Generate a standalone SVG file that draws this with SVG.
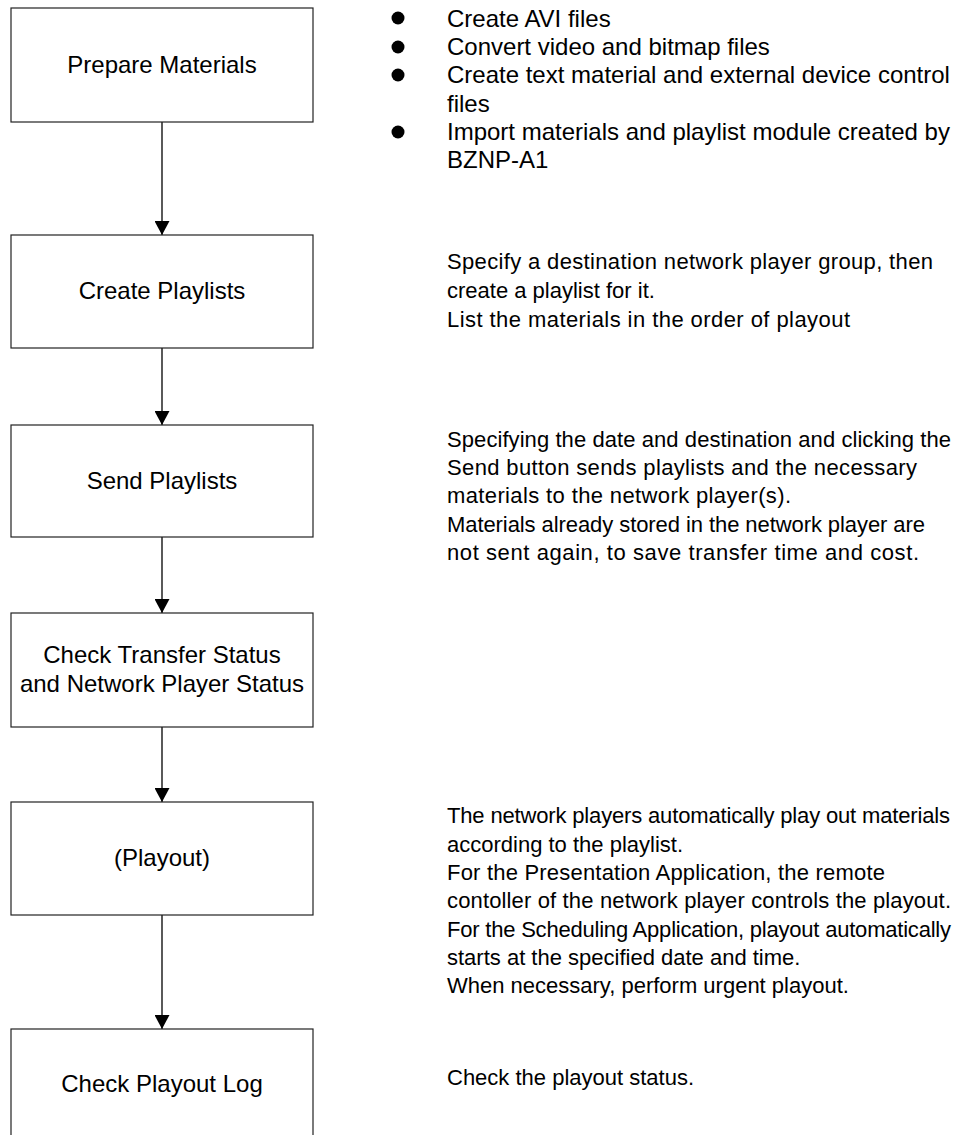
<svg xmlns="http://www.w3.org/2000/svg" width="959" height="1135" viewBox="0 0 959 1135">
<style>
.box{fill:#fff;stroke:#222;stroke-width:1.2}
.t{font-family:"Liberation Sans",Arial,sans-serif;font-size:24px;fill:#000}
.d{font-family:"Liberation Sans",Arial,sans-serif;font-size:22px;fill:#000}
.c{text-anchor:middle}
.ln{stroke:#000;stroke-width:1.3;fill:none}
</style>
<defs>
<marker id="ah" markerWidth="14" markerHeight="15" refX="14" refY="7.5" orient="auto" markerUnits="userSpaceOnUse">
<path d="M0,0 L14,7.5 L0,15 Z" fill="#000"/>
</marker>
</defs>
<rect width="959" height="1135" fill="#fff"/>
<g id="connectors">
<line class="ln" x1="162" y1="122" x2="162" y2="235" marker-end="url(#ah)"/>
<line class="ln" x1="162" y1="348" x2="162" y2="425" marker-end="url(#ah)"/>
<line class="ln" x1="162" y1="537" x2="162" y2="613" marker-end="url(#ah)"/>
<line class="ln" x1="162" y1="727" x2="162" y2="802" marker-end="url(#ah)"/>
<line class="ln" x1="162" y1="915" x2="162" y2="1029" marker-end="url(#ah)"/>
</g>
<g id="n1">
<rect class="box" x="11" y="8" width="302" height="114"/>
<text class="t c" x="162" y="73">Prepare Materials</text>
</g>
<g id="n2">
<rect class="box" x="11" y="235" width="302" height="113"/>
<text class="t c" x="162" y="299">Create Playlists</text>
</g>
<g id="n3">
<rect class="box" x="11" y="425" width="302" height="112"/>
<text class="t c" x="162" y="489">Send Playlists</text>
</g>
<g id="n4">
<rect class="box" x="11" y="613" width="302" height="114"/>
<text class="t c" x="162" y="663">Check Transfer Status</text>
<text class="t c" x="162" y="692">and Network Player Status</text>
</g>
<g id="n5">
<rect class="box" x="11" y="802" width="302" height="113"/>
<text class="t c" x="162" y="866">(Playout)</text>
</g>
<g id="n6">
<rect class="box" x="11" y="1029" width="302" height="120"/>
<text class="t c" x="162" y="1092">Check Playout Log</text>
</g>
<g id="desc1">
<circle cx="398" cy="18" r="6.5"/>
<circle cx="398" cy="47" r="6.5"/>
<circle cx="398" cy="75" r="6.5"/>
<circle cx="398" cy="132" r="6.5"/>
<text class="t" x="447" y="27">Create AVI files</text>
<text class="t" x="447" y="55">Convert video and bitmap files</text>
<text class="t" x="447" y="83">Create text material and external device control</text>
<text class="t" x="447" y="112">files</text>
<text class="t" x="447" y="140">Import materials and playlist module created by</text>
<text class="t" x="447" y="168">BZNP-A1</text>
</g>
<g id="desc2">
<text class="d" x="447" y="269" textLength="486">Specify a destination network player group, then</text>
<text class="d" x="447" y="298">create a playlist for it.</text>
<text class="d" x="447" y="327" textLength="403">List the materials in the order of playout</text>
</g>
<g id="desc3">
<text class="d" x="447" y="447" textLength="504">Specifying the date and destination and clicking the</text>
<text class="d" x="447" y="475" textLength="470">Send button sends playlists and the necessary</text>
<text class="d" x="447" y="503" textLength="344">materials to the network player(s).</text>
<text class="d" x="447" y="532" textLength="478">Materials already stored in the network player are</text>
<text class="d" x="447" y="560" textLength="472">not sent again, to save transfer time and cost.</text>
</g>
<g id="desc5">
<text class="d" x="447" y="823" textLength="503">The network players automatically play out materials</text>
<text class="d" x="447" y="852">according to the playlist.</text>
<text class="d" x="447" y="880" textLength="438">For the Presentation Application, the remote</text>
<text class="d" x="447" y="908" textLength="504">contoller of the network player controls the playout.</text>
<text class="d" x="447" y="937" textLength="504">For the Scheduling Application, playout automatically</text>
<text class="d" x="447" y="965">starts at the specified date and time.</text>
<text class="d" x="447" y="993">When necessary, perform urgent playout.</text>
</g>
<g id="desc6">
<text class="d" x="447" y="1085">Check the playout status.</text>
</g>
</svg>
